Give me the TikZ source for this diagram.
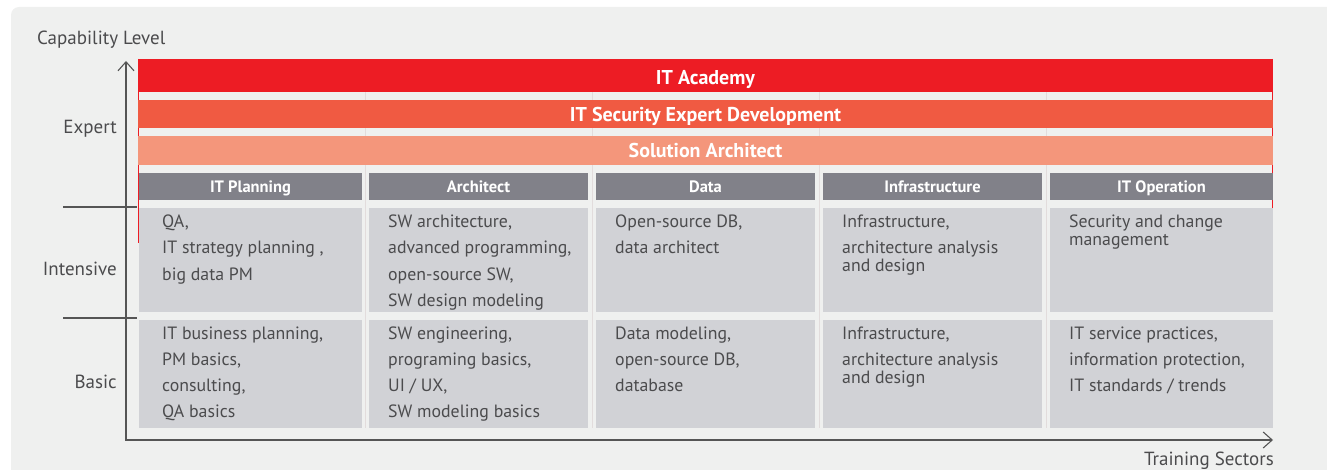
\documentclass[tikz,border=0pt]{standalone}
\usepackage{fontspec}
\setmainfont{PT Sans}
\usetikzlibrary{arrows.meta}
\definecolor{bg}{HTML}{EFF0EF}
\definecolor{redA}{HTML}{ED1C24}
\definecolor{redB}{HTML}{F05A42}
\definecolor{redC}{HTML}{F4967B}
\definecolor{hdrgray}{HTML}{818189}
\definecolor{cellgray}{HTML}{D1D2D6}
\definecolor{txtgray}{HTML}{4B4B4D}
\definecolor{axisgray}{HTML}{555555}
\definecolor{gapgray}{HTML}{E2DCDC}
\tikzset{
  barbox/.style={fill=#1, draw=none, minimum width=1135pt, inner sep=0pt, text=white, anchor=base,
    font=\fontsize{20}{24}\bfseries\selectfont},
  hdrbox/.style={fill=hdrgray, draw=none, inner sep=0pt, text=white, anchor=base,
    text height=19.5pt, text depth=7.5pt,
    font=\fontsize{16.5}{20}\bfseries\selectfont},
  cellbox/.style={fill=cellgray, draw=none, inner sep=0pt, anchor=north west},
  celltext/.style={anchor=base west, inner sep=0pt, text=txtgray, font=\fontsize{17.8}{21}\selectfont},
  lvltext/.style={anchor=base east, inner sep=0pt, text=txtgray, font=\fontsize{19}{22}\selectfont},
  axisline/.style={draw=axisgray, line width=1.1pt,
    arrows={Straight Barb[length=9pt,width=16pt]-Straight Barb[length=9pt,width=16pt]}},
  tickline/.style={draw=axisgray, line width=1.1pt},
  gapline/.style={draw=gapgray, line width=0.8pt},
  rededge/.style={draw=redA, line width=0.9pt}
}
\newcommand\cellrows[3]{%
  \foreach \lineY/\lineT [count=\i] in {#3} {%
    \node[celltext] (#1-\i) at (#2,\lineY) {\lineT};}}
\begin{document}
\begin{tikzpicture}[x=1pt,y=-1pt]
\useasboundingbox (0,0) rectangle (1327,470);
\fill[bg, rounded corners=8pt] (11,7) rectangle (1345,485);

% faint gap lines
\foreach \gx in {365,592,819,1046} {\draw[gapline] (\gx,59) -- (\gx,428);}
% red frame edges
\draw[rededge] (138.5,59) -- (138.5,243);
\draw[rededge] (1272.5,59) -- (1272.5,243);

% bars (box edges set by text height / depth around the baseline)
\node[barbox=redA, text height=25.3pt, text depth=7.7pt] (academy) at (705.5,84.3) {IT Academy};
\node[barbox=redB, text height=21.7pt, text depth=6.3pt] (security) at (705.5,121.7) {IT Security Expert Development};
\node[barbox=redC, text height=21.7pt, text depth=7.3pt] (solution) at (705.5,157.7) {Solution Architect};

% headers and cells
\foreach \cx/\cw/\cn/\ct in {139/223/p/IT Planning, 369/219/a/Architect, 596/219/d/Data, 823/219/i/Infrastructure, 1050/223/o/IT Operation} {
  \node[hdrbox, minimum width=\cw pt] (h\cn) at ({\cx+\cw/2},192.5) {\ct};
  \node[cellbox, minimum width=\cw pt, minimum height=104pt] (int\cn) at (\cx,208) {};
  \node[cellbox, minimum width=\cw pt, minimum height=108pt] (bas\cn) at (\cx,320) {};
}

% cell texts
\cellrows{tp}{162}{227.5/{QA,}, 253.5/{IT strategy planning ,}, 280/{big data PM}}
\cellrows{bp}{162}{339.3/{IT business planning,}, 365.3/{PM basics,}, 391.3/{consulting,}, 417.5/{QA basics}}
\cellrows{ta}{388}{227.5/{SW architecture,}, 253.5/{advanced programming,}, 280/{open-source SW,}, 306.5/{SW design modeling}}
\cellrows{ba}{388}{339.3/{SW engineering,}, 365.3/{programing basics,}, 391.3/{UI / UX,}, 417.5/{SW modeling basics}}
\cellrows{td}{615}{227.5/{Open-source DB,}, 253.5/{data architect}}
\cellrows{bd}{615}{339.3/{Data modeling,}, 365.3/{open-source DB,}, 391.3/{database}}
\cellrows{ti}{842}{227.5/{Infrastructure,}, 253.3/{architecture analysis}, 271.7/{and design}}
\cellrows{bi}{842}{339.3/{Infrastructure,}, 365/{architecture analysis}, 383.5/{and design}}
\cellrows{to}{1069}{227.5/{Security and change}, 246/{management}}
\cellrows{bo}{1069}{339.3/{IT service practices,}, 365.3/{information protection,}, 391.3/{IT standards / trends}}

% axes
\coordinate (ytop) at (126,61);
\coordinate (origin) at (126,440);
\coordinate (xend) at (1273,440);
\draw[axisline] (ytop) -- (origin) -- (xend);
\coordinate (t1a) at (63,207); \coordinate (t1b) at (137,207);
\coordinate (t2a) at (63,318); \coordinate (t2b) at (137,318);
\draw[tickline] (t1a) -- (t1b);
\draw[tickline] (t2a) -- (t2b);

% axis labels
\node[lvltext, anchor=base west] (caplevel) at (37,44.3) {Capability Level};
\node[lvltext] (expert) at (117,134) {Expert};
\node[lvltext] (intensive) at (117,276) {Intensive};
\node[lvltext] (basic) at (117,388.3) {Basic};
\node[lvltext] (sectors) at (1274,465) {Training Sectors};
\end{tikzpicture}
\end{document}
